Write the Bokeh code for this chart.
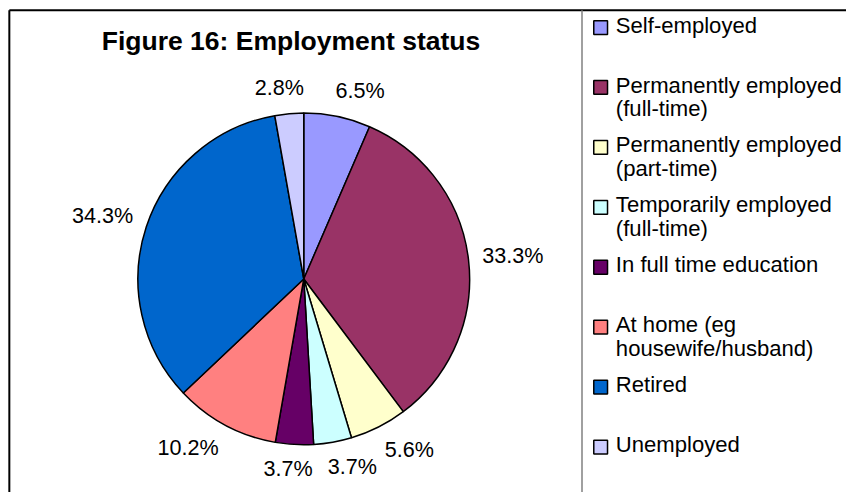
import numpy as np
from bokeh.plotting import figure
from bokeh.models import Range1d
from bokeh.core.properties import value
from bokeh.embed import file_html
from bokeh.resources import INLINE

# ---- data ----
title_text = "Figure 16: Employment status"
categories = [
    "Self-employed",
    "Permanently employed\n(full-time)",
    "Permanently employed\n(part-time)",
    "Temporarily employed\n(full-time)",
    "In full time education",
    "At home (eg\nhousewife/husband)",
    "Retired",
    "Unemployed",
]
percentages = [6.5, 33.3, 5.6, 3.7, 3.7, 10.2, 34.3, 2.8]
colors = ["#9999FF", "#993366", "#FFFFCC", "#CCFFFF",
          "#660066", "#FF8080", "#0066CC", "#CCCCFF"]

# ---- layout: data units = reference-image pixels (862 x 500), y = -pixel row ----
W, H = 846, 492
S = W / 862.0          # pixel size of one data unit
FONT = "Liberation Sans"
def fs(px):
    return f"{px * S:.2f}px"

p = figure(width=W, height=H, x_range=Range1d(0, 862), y_range=Range1d(-500, 0),
           output_backend="svg", toolbar_location=None, min_border=0,
           x_axis_location=None, y_axis_location=None)
p.grid.visible = False
p.outline_line_color = None
p.background_fill_color = "white"
p.border_fill_color = "white"

# chart border and legend separator
p.line([9, 9], [-500, -10], line_color="black", line_width=2)
p.line([9, 862], [-10, -10], line_color="black", line_width=2)
p.line([592.5, 592.5], [-500, -10], line_color="#808080", line_width=1.5)

# title
p.text(x=[296], y=[-41], text=[title_text], text_font=value(FONT), text_font_style="bold",
       text_font_size=fs(27), text_align="center", text_baseline="middle", text_color="black")

# pie
cx, cy, r = 309, -283, 169
vals = np.array(percentages, dtype=float)
total = vals.sum()
cum = np.concatenate([[0], np.cumsum(vals)])
start = np.pi / 2 - 2 * np.pi * cum[:-1] / total
end = np.pi / 2 - 2 * np.pi * cum[1:] / total
p.wedge(x=cx, y=cy, radius=r, start_angle=start, end_angle=end, direction="clock",
        fill_color=colors, line_color="black", line_width=1.5)

# data labels placed outside the pie (box edge anchored next to the rim)
LFS = 22
def text_width(s, size):
    wmap = {".": 0.278, "%": 0.889}
    return sum(wmap.get(c, 0.556) for c in s) * size

mid = (start + end) / 2
gap = 14
lx, ly, lt = [], [], []
for v, a in zip(percentages, mid):
    s = f"{v:.1f}%"
    w = text_width(s, LFS)
    c, sn = np.cos(a), np.sin(a)
    half_h = 12 if sn > 0 else 10
    px = cx + (r + gap) * c + (w / 2) * np.clip(c / 0.25, -1, 1)
    py = cy + (r + gap) * sn + half_h * np.clip(sn / 0.5, -1, 1)
    lx.append(px)
    ly.append(py)
    lt.append(s)
p.text(x=lx, y=ly, text=lt, text_font=value(FONT), text_font_size=fs(LFS),
       text_align="center", text_baseline="middle", text_color="black")

# legend
leg_top, leg_step = 27.5, 60.9
sq_x, txt_x = 611.5, 627
for i, (cat, col) in enumerate(zip(categories, colors)):
    yc = leg_top + leg_step * i
    p.rect(x=sq_x, y=-yc, width=14, height=14, fill_color=col, line_color="black", line_width=1.5)
    for j, line in enumerate(cat.split("\n")):
        p.text(x=[txt_x], y=[-(yc - 2.5 + 24 * j)], text=[line], text_font=value(FONT),
               text_font_size=fs(22.5), text_align="left", text_baseline="middle", text_color="black")

open("out.html", "w").write(file_html(p, INLINE))
